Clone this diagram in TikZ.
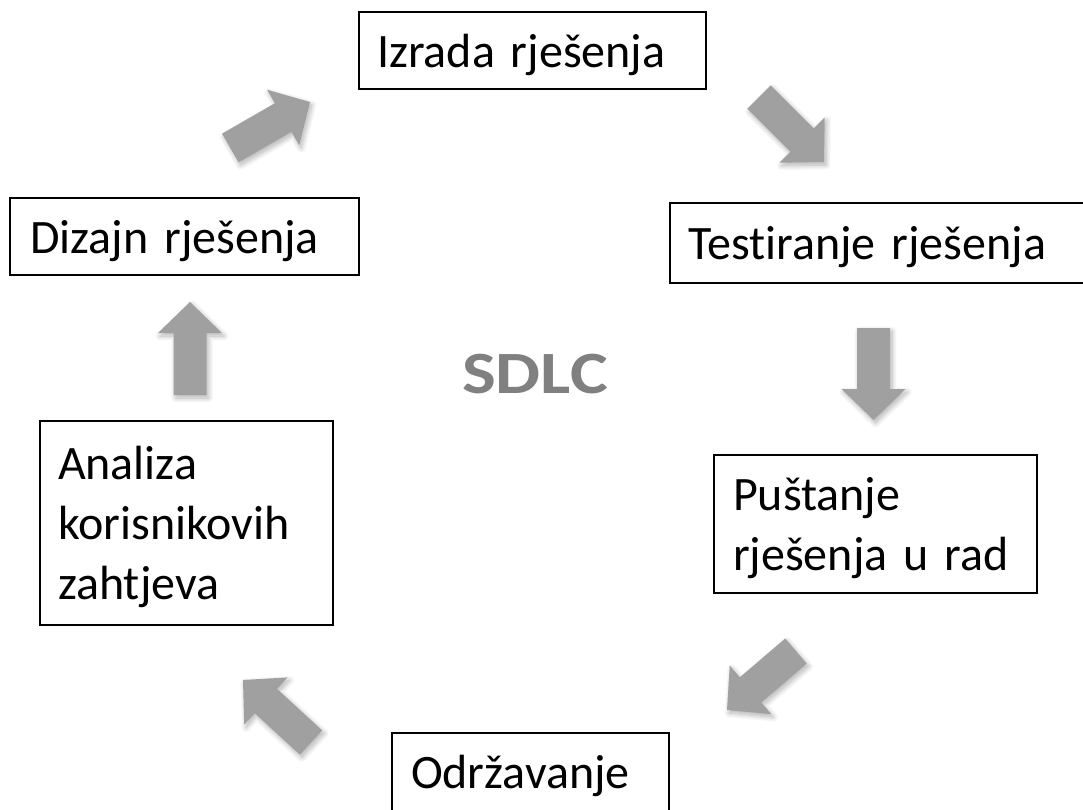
\documentclass[tikz,border=0pt]{standalone}
\usepackage{fontspec}
\setmainfont{Carlito}[Ligatures=NoCommon]
\usetikzlibrary{calc,shadows.blur}
\definecolor{arrowgray}{RGB}{160,160,160}
\definecolor{sdlcgray}{RGB}{128,128,128}
\tikzset{
  stage/.style={draw=black, line width=2.2pt, fill=white, align=left,
    inner xsep=0pt, inner ysep=0pt, font=\fontsize{48}{60}\selectfont,
    execute at begin node={\rule{0pt}{42pt}}},
  arrowfill/.style={fill=arrowgray, blur shadow={shadow xshift=2pt, shadow yshift=-3pt,
    shadow blur radius=5pt, shadow blur steps=10, shadow opacity=30}},
}
\newcommand\sdlcarrow[2]{%
  \coordinate (#1#2h) at ($(#2)!31pt!(#1)$);
  \fill[arrowfill] ($(#1)!16.5pt!90:(#2)$) -- ($(#1#2h)!16.5pt!90:(#2)$)
    -- ($(#1#2h)!32pt!90:(#2)$) -- (#2) -- ($(#1#2h)!32pt!-90:(#2)$)
    -- ($(#1#2h)!16.5pt!-90:(#2)$) -- ($(#1)!16.5pt!-90:(#2)$) -- cycle;}
\begin{document}
\begin{tikzpicture}[x=1pt,y=-1pt]
\useasboundingbox (0,0) rectangle (1083,810);
\clip (0,0) rectangle (1083,810);
% stages
\node[stage, minimum width=347pt, minimum height=77pt, text width=311pt] (izrada) at (532.5,50.5) {Izrada rješenja};
\node[stage, minimum width=349pt, minimum height=77pt, text width=309pt] (dizajn) at (184.5,236.5) {Dizajn rješenja};
\node[stage, minimum width=420pt, minimum height=80pt, text width=384pt] (testiranje) at (880,243) {Testiranje rješenja};
\node[stage, minimum width=293pt, minimum height=204pt, text width=257pt] (analiza) at (186.5,523) {Analiza\\korisnikovih\\zahtjeva};
\node[stage, minimum width=323pt, minimum height=138pt, text width=285pt] (pustanje) at (875.5,524) {Puštanje\\rješenja u rad};
\node[stage, minimum width=277pt, minimum height=78pt, text width=239pt] (odrzavanje) at (530.5,772) {Održavanje};
% centre label
\node[font=\fontsize{60}{72}\selectfont\bfseries, text=sdlcgray] (sdlc) at (535,374) {\scalebox{1.19}[1]{SDLC}};
% arrow end points
\coordinate (a1s) at (230.3,148);  \coordinate (a1e) at (310,102);
\coordinate (a2s) at (759,97);     \coordinate (a2e) at (824,162);
\coordinate (a3s) at (873.5,328);  \coordinate (a3e) at (873.5,420);
\coordinate (a4s) at (796,651);    \coordinate (a4e) at (727,710);
\coordinate (a5s) at (311,742.5);  \coordinate (a5e) at (243,680);
\coordinate (a6s) at (190,395);    \coordinate (a6e) at (190,302);
\sdlcarrow{a1s}{a1e}
\sdlcarrow{a2s}{a2e}
\sdlcarrow{a3s}{a3e}
\sdlcarrow{a4s}{a4e}
\sdlcarrow{a5s}{a5e}
\sdlcarrow{a6s}{a6e}
\end{tikzpicture}
\end{document}
